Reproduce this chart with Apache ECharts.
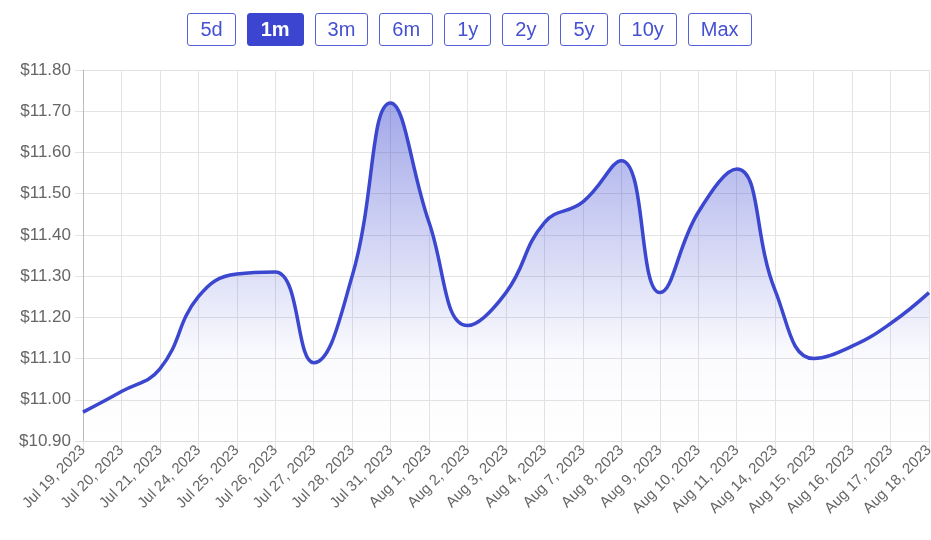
<!DOCTYPE html>
<html>
<head>
<meta charset="utf-8">
<script src="https://cdn.jsdelivr.net/npm/echarts@6/dist/echarts.min.js"></script>
<style>
  html, body { margin: 0; padding: 0; background: #fff; }
  #wrap { position: relative; width: 931px; height: 540px; }
  #main { width: 931px; height: 540px; }
  #ranges { position: absolute; top: 13px; left: 0; width: 931px; display: flex; justify-content: center; gap: 11px; padding-left: 8px; box-sizing: border-box; }
  #ranges span {
    display: inline-block; height: 31px; padding: 0 12px;
    border: 1px solid #5560dc; border-radius: 3px; color: #4550d2;
    font-family: "Liberation Sans", Arial, sans-serif; font-size: 20px; line-height: 31px;
    background: #fff;
  }
  #ranges span.on { background: #3b45cf; border-color: #3b45cf; color: #fff; font-weight: bold; padding: 0 13px; }
</style>
</head>
<body>
<div id="wrap">
  <div id="main"></div>
  <div id="ranges"></div>
</div>
<script>
  const ranges = ['5d', '1m', '3m', '6m', '1y', '2y', '5y', '10y', 'Max'];
  const activeRange = '1m';

  const dates = ['Jul 19, 2023', 'Jul 20, 2023', 'Jul 21, 2023', 'Jul 24, 2023', 'Jul 25, 2023',
    'Jul 26, 2023', 'Jul 27, 2023', 'Jul 28, 2023', 'Jul 31, 2023', 'Aug 1, 2023', 'Aug 2, 2023',
    'Aug 3, 2023', 'Aug 4, 2023', 'Aug 7, 2023', 'Aug 8, 2023', 'Aug 9, 2023', 'Aug 10, 2023',
    'Aug 11, 2023', 'Aug 14, 2023', 'Aug 15, 2023', 'Aug 16, 2023', 'Aug 17, 2023', 'Aug 18, 2023'];
  const prices = [10.97, 11.02, 11.075, 11.25, 11.305, 11.31, 11.09, 11.30, 11.72, 11.43, 11.18,
    11.26, 11.43, 11.48, 11.58, 11.26, 11.455, 11.56, 11.265, 11.10, 11.13, 11.185, 11.26];

  const box = document.getElementById('ranges');
  ranges.forEach(r => {
    const s = document.createElement('span');
    s.textContent = r;
    if (r === activeRange) s.className = 'on';
    box.appendChild(s);
  });

  var myChart = echarts.init(document.getElementById('main'));
  var option = {
    animation: false,
    grid: { left: 83, right: 2, top: 70, bottom: 99, outerBoundsMode: 'none', containLabel: false },
    xAxis: {
      type: 'category',
      data: dates,
      boundaryGap: false,
      axisLine: { lineStyle: { color: '#ddd' } },
      axisTick: { show: true, length: 8, lineStyle: { color: '#e3e3e3' } },
      splitLine: { show: true, lineStyle: { color: '#e3e3e3' } },
      axisLabel: {
        rotate: 45, interval: 0, color: '#666', fontSize: 15, margin: 7,
        fontFamily: 'Liberation Sans, Arial, sans-serif'
      }
    },
    yAxis: {
      type: 'value',
      min: 10.9, max: 11.8, interval: 0.1,
      axisLine: { show: true, lineStyle: { color: '#bbb' } },
      axisTick: { show: true, length: 8, lineStyle: { color: '#e3e3e3' } },
      splitLine: { lineStyle: { color: '#e3e3e3' } },
      axisLabel: {
        color: '#666', fontSize: 17, margin: 12,
        fontFamily: 'Liberation Sans, Arial, sans-serif',
        formatter: v => '$' + v.toFixed(2)
      }
    },
    series: [{
      type: 'line',
      data: prices,
      smooth: 0.45,
      symbol: 'none',
      lineStyle: { color: '#3b47cf', width: 3.5 },
      areaStyle: {
        origin: 'start',
        color: new echarts.graphic.LinearGradient(0, 0, 0, 1, [
          { offset: 0, color: 'rgba(59,71,207,0.68)' },
          { offset: 0.75, color: 'rgba(59,71,207,0.03)' },
          { offset: 1, color: 'rgba(59,71,207,0)' }
        ])
      }
    }]
  };
  myChart.setOption(option);
</script>
</body>
</html>
